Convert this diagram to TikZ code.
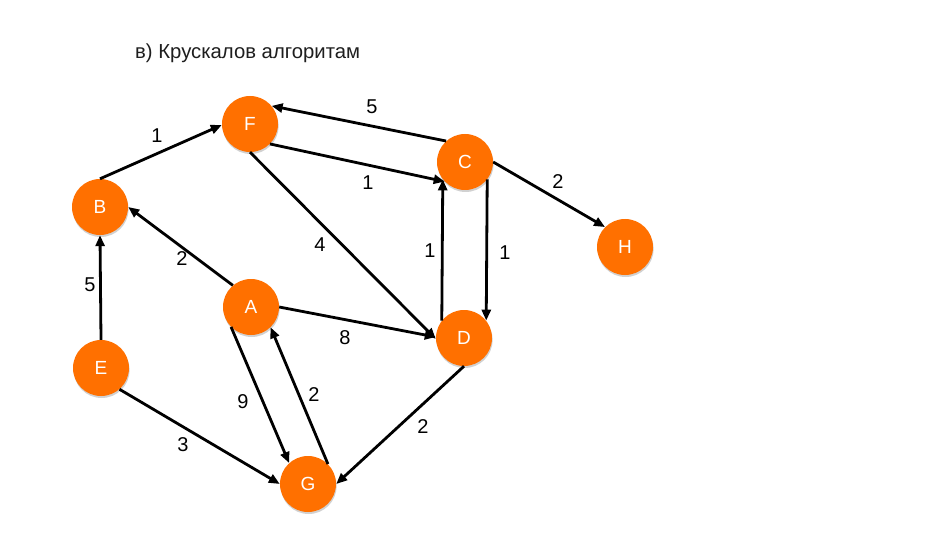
\documentclass[tikz,border=0pt]{standalone}
\usepackage{fontspec}
\setmainfont{Liberation Sans}
\usetikzlibrary{arrows.meta,shadows}
\definecolor{vorange}{RGB}{255,112,0}
\definecolor{titlegray}{RGB}{30,30,30}
\tikzset{
  vertex/.style={circle,fill=vorange,minimum size=56pt,inner sep=0pt,text=white,
    font=\fontsize{19}{19}\selectfont,
    drop shadow={shadow xshift=0.6pt,shadow yshift=-2pt,opacity=0.18,fill=black}},
  edge/.style={line width=2.8pt,draw=black,-{Triangle[length=11pt,width=9pt]}},
  wlabel/.style={font=\fontsize{20}{20}\selectfont,text=black,inner sep=0pt}
}
\begin{document}
\begin{tikzpicture}[x=1pt,y=-1pt]
\useasboundingbox[fill=white] (0,0) rectangle (950,548);
\node[anchor=base west,inner sep=0pt,text=titlegray,font=\fontsize{20.3}{20}\selectfont] (title) at (135,59) {в) Крускалов алгоритам};
\node[vertex] (F) at (250,124) {F};
\node[vertex] (C) at (465,162) {C};
\node[vertex] (B) at (100,207) {B};
\node[vertex] (H) at (625,247) {H};
\node[vertex] (A) at (251,307) {A};
\node[vertex] (D) at (464,338) {D};
\node[vertex] (E) at (101,368) {E};
\node[vertex] (G) at (308,484) {G};
\draw[edge] (B.90) -- (F.182);
\draw[edge] (C.132) -- (F.40);
\draw[edge] (F.315) -- (C.224);
\draw[edge] (F.270) -- (D.182);
\draw[edge] (D.142) -- (C.218);
\draw[edge] (C.322) -- (D.38);
\draw[edge] (C.0) -- (H.135);
\draw[edge] (A.130) -- (B.0);
\draw[edge] (E.90) -- (B.270);
\draw[edge] (A.0) -- (D.178);
\draw[edge] (A.225) -- (G.132);
\draw[edge] (G.45) -- (A.314);
\draw[edge] (E.311) -- (G.180);
\draw[edge] (D.270) -- (G.0);
\node[wlabel] (l1) at (157,136) {1};
\node[wlabel] (l2) at (372,107) {5};
\node[wlabel] (l3) at (368,183) {1};
\node[wlabel] (l4) at (320,245) {4};
\node[wlabel] (l5) at (430,251) {1};
\node[wlabel] (l6) at (505,253) {1};
\node[wlabel] (l7) at (558,182) {2};
\node[wlabel] (l8) at (182,259) {2};
\node[wlabel] (l9) at (90,285) {5};
\node[wlabel] (l10) at (345,338) {8};
\node[wlabel] (l11) at (243,402) {9};
\node[wlabel] (l12) at (314,395) {2};
\node[wlabel] (l13) at (183,445) {3};
\node[wlabel] (l14) at (423,427) {2};
\end{tikzpicture}
\end{document}
